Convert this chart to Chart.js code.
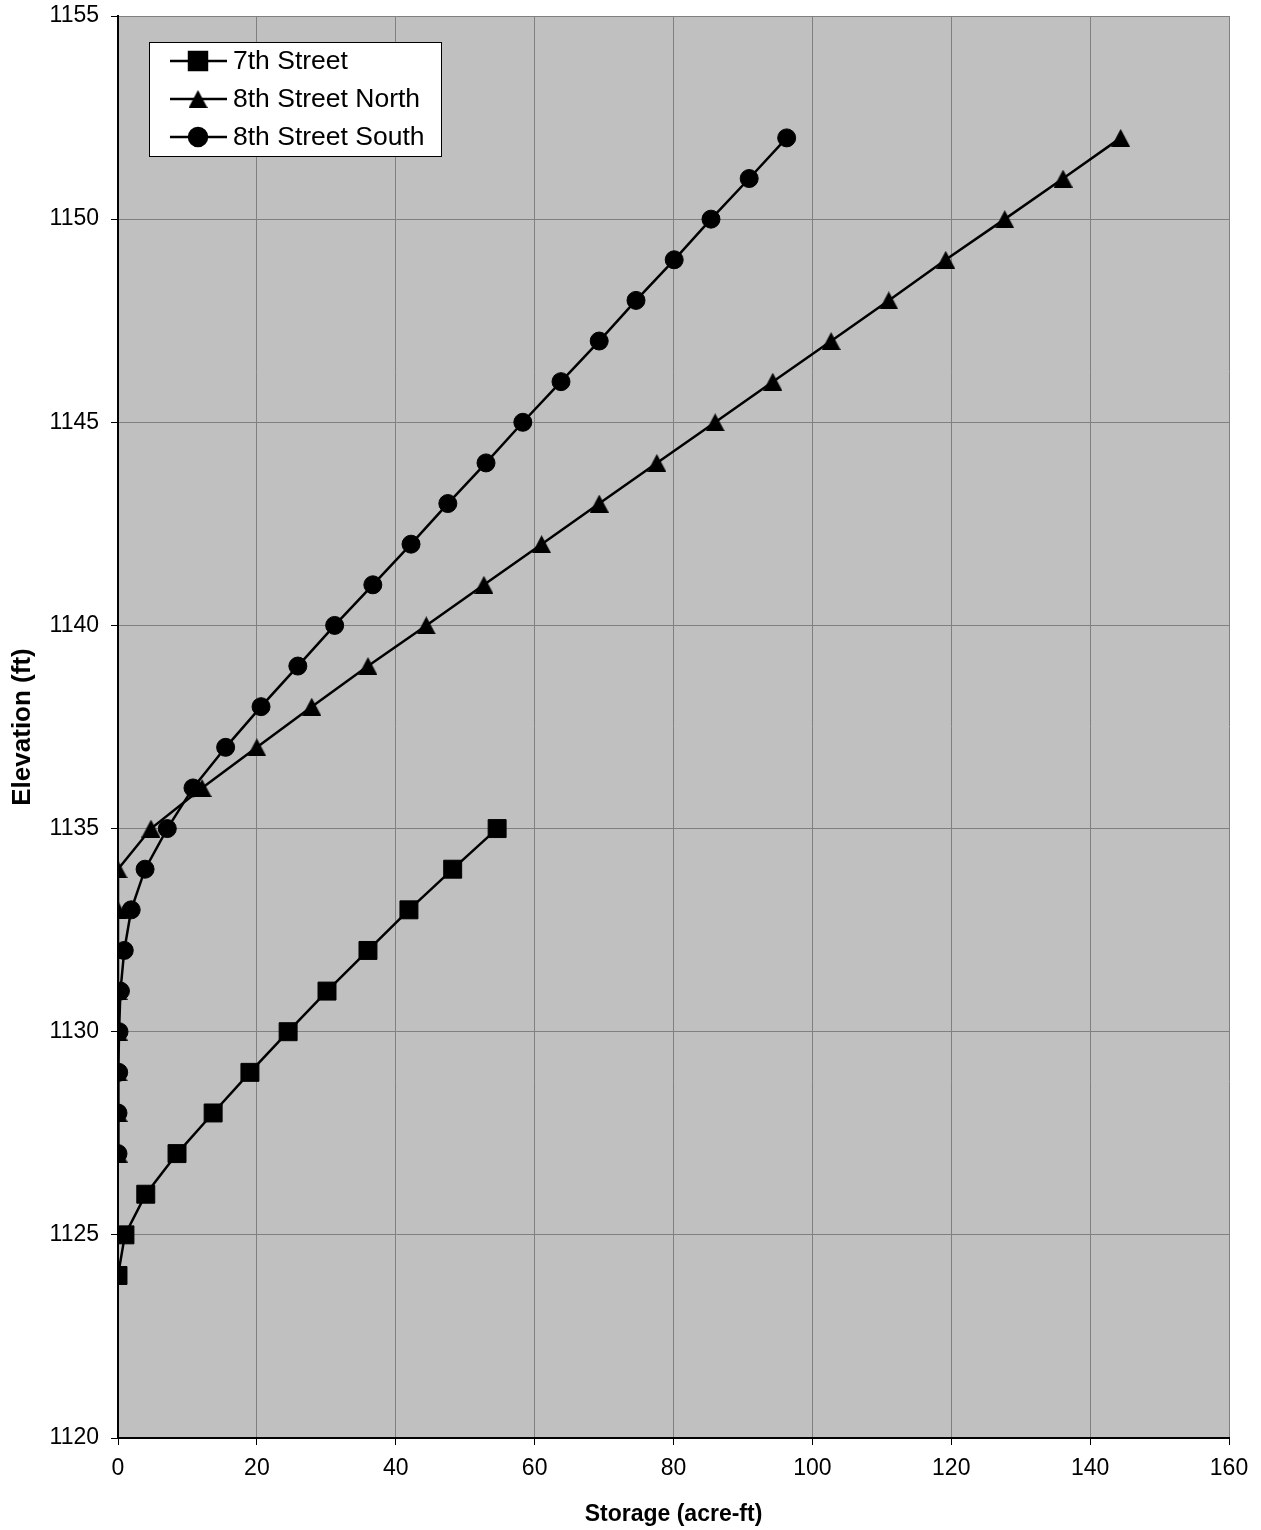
<!DOCTYPE html>
<html>
<head>
<meta charset="utf-8">
<title>Elevation vs Storage</title>
<script src="https://cdn.jsdelivr.net/npm/chart.js@4/dist/chart.umd.min.js"></script>
<style>
    html, body { margin: 0; padding: 0; background: #ffffff; }
    #wrap { width: 1261px; height: 1530px; }
</style>
</head>
<body>
<div id="wrap"><canvas id="storageChart" width="1261" height="1530"></canvas></div>
<script>
// elevation (ft) / storage (acre-ft)
const elev7th = [1124, 1125, 1126, 1127, 1128, 1129, 1130, 1131, 1132, 1133, 1134, 1135];
const storage7th = [0, 1.0, 4.0, 8.5, 13.7, 19.0, 24.5, 30.1, 36.0, 41.9, 48.2, 54.6];

const elev8thNorth = [1127, 1128, 1129, 1130, 1131, 1132, 1133, 1134, 1135, 1136, 1137, 1138, 1139,
    1140, 1141, 1142, 1143, 1144, 1145, 1146, 1147, 1148, 1149, 1150, 1151, 1152];
const storage8thNorth = [0, 0, 0, 0, 0, 0, 0, 0, 4.75, 12.1, 20.0, 27.9, 36.0,
    44.4, 52.7, 61.0, 69.3, 77.6, 86.0, 94.3, 102.7, 111.0, 119.2, 127.7, 136.1, 144.4];

const elev8thSouth = [1127, 1128, 1129, 1130, 1131, 1132, 1133, 1134, 1135, 1136, 1137, 1138, 1139,
    1140, 1141, 1142, 1143, 1144, 1145, 1146, 1147, 1148, 1149, 1150, 1151, 1152];
const storage8thSouth = [0, 0, 0.1, 0.15, 0.35, 0.9, 1.9, 3.9, 7.1, 10.8, 15.5, 20.6, 25.9,
    31.2, 36.7, 42.2, 47.5, 53.0, 58.3, 63.8, 69.3, 74.6, 80.1, 85.4, 90.9, 96.3];

const xTickValues = [0, 20, 40, 60, 80, 100, 120, 140, 160];
const yTickValues = [1120, 1125, 1130, 1135, 1140, 1145, 1150, 1155];

const FONT = "'Liberation Sans', Arial, sans-serif";

function toPoints(xs, ys) {
    return xs.map((x, i) => ({ x: x, y: ys[i] }));
}

// Excel-style triangle marker, centred on its box (Chart.js' own one sits high)
function makeTriangle(w, h) {
    const c = document.createElement('canvas');
    c.width = w;
    c.height = h;
    const g = c.getContext('2d');
    g.fillStyle = '#000000';
    g.beginPath();
    g.moveTo(w / 2, 0);
    g.lineTo(w, h);
    g.lineTo(0, h);
    g.closePath();
    g.fill();
    return c;
}
const triangleMarker = makeTriangle(19, 18);

const plotBackground = {
    id: 'plotBackground',
    beforeDraw(chart) {
        const { ctx, chartArea } = chart;
        ctx.save();
        ctx.fillStyle = '#c0c0c0';
        ctx.fillRect(chartArea.left, chartArea.top, chartArea.right - chartArea.left, chartArea.bottom - chartArea.top);
        ctx.restore();
    }
};

// boxed legend inside the plot, line + marker like the original
const boxLegend = {
    id: 'boxLegend',
    afterDraw(chart) {
        const { ctx, chartArea } = chart;
        const left = chartArea.left + 31;
        const top = chartArea.top + 26;
        const width = 292;
        const height = 114;
        const rowGap = 38;

        ctx.save();
        ctx.fillStyle = '#ffffff';
        ctx.fillRect(left, top, width, height);
        ctx.strokeStyle = '#000000';
        ctx.lineWidth = 1;
        ctx.strokeRect(left + 0.5, top + 0.5, width, height);

        chart.data.datasets.forEach((ds, i) => {
            const y = top + 19 + i * rowGap;
            ctx.strokeStyle = '#000000';
            ctx.lineWidth = 2.5;
            ctx.beginPath();
            ctx.moveTo(left + 21, y);
            ctx.lineTo(left + 78, y);
            ctx.stroke();

            ctx.fillStyle = '#000000';
            Chart.helpers.drawPoint(ctx, {
                pointStyle: ds.pointStyle,
                radius: ds.pointRadius,
                rotation: 0,
                borderWidth: 1
            }, left + 49, y);

            ctx.fillStyle = '#000000';
            ctx.font = '26.5px ' + FONT;
            ctx.textAlign = 'left';
            ctx.textBaseline = 'middle';
            ctx.fillText(ds.label, left + 84, y + 1);
        });
        ctx.restore();
    }
};

const seriesStyle = {
    showLine: true,
    borderColor: '#000000',
    borderWidth: 2.5,
    pointBackgroundColor: '#000000',
    pointBorderColor: '#000000',
    pointBorderWidth: 1,
    fill: false,
    tension: 0
};

const ctx = document.getElementById('storageChart').getContext('2d');

new Chart(ctx, {
    type: 'scatter',
    data: {
        datasets: [
            Object.assign({
                label: '7th Street',
                data: toPoints(storage7th, elev7th),
                pointStyle: 'rect',
                pointRadius: 12.7,
                order: 2
            }, seriesStyle),
            Object.assign({
                label: '8th Street North',
                data: toPoints(storage8thNorth, elev8thNorth),
                pointStyle: triangleMarker,
                pointRadius: 9,
                order: 1
            }, seriesStyle),
            Object.assign({
                label: '8th Street South',
                data: toPoints(storage8thSouth, elev8thSouth),
                pointStyle: 'circle',
                pointRadius: 9,
                order: 0
            }, seriesStyle)
        ]
    },
    options: {
        responsive: false,
        animation: false,
        events: [],
        layout: { padding: { top: 16, right: 32, left: 0, bottom: 0 } },
        plugins: {
            legend: { display: false },
            tooltip: { enabled: false }
        },
        scales: {
            x: {
                type: 'linear',
                min: 0,
                max: 160,
                afterBuildTicks: scale => { scale.ticks = xTickValues.map(v => ({ value: v })); },
                afterFit: scale => { scale.height = 92; },
                grid: { color: '#808080', lineWidth: 1, tickLength: 7, tickColor: '#000000' },
                border: { color: '#000000', width: 2 },
                ticks: {
                    color: '#000000',
                    padding: 10,
                    font: { family: FONT, size: 23 },
                    callback: value => String(value)
                },
                title: {
                    display: true,
                    text: 'Storage (acre-ft)',
                    color: '#000000',
                    font: { family: FONT, size: 23, weight: 'bold' },
                    padding: { top: 0, bottom: 2 }
                }
            },
            y: {
                type: 'linear',
                min: 1120,
                max: 1155,
                afterBuildTicks: scale => { scale.ticks = yTickValues.map(v => ({ value: v })); },
                afterFit: scale => {
                    scale.width = 118;
                    scale.paddingTop = 0;
                    scale.paddingBottom = 0;
                },
                grid: { color: '#808080', lineWidth: 1, tickLength: 7, tickColor: '#000000' },
                border: { color: '#000000', width: 2 },
                ticks: {
                    color: '#000000',
                    padding: 12,
                    font: { family: FONT, size: 23 },
                    callback: value => String(value)
                },
                title: {
                    display: true,
                    text: 'Elevation (ft)',
                    color: '#000000',
                    font: { family: FONT, size: 26, weight: 'bold' },
                    padding: { top: 7, bottom: 0 }
                }
            }
        }
    },
    plugins: [plotBackground, boxLegend]
});
</script>
</body>
</html>
